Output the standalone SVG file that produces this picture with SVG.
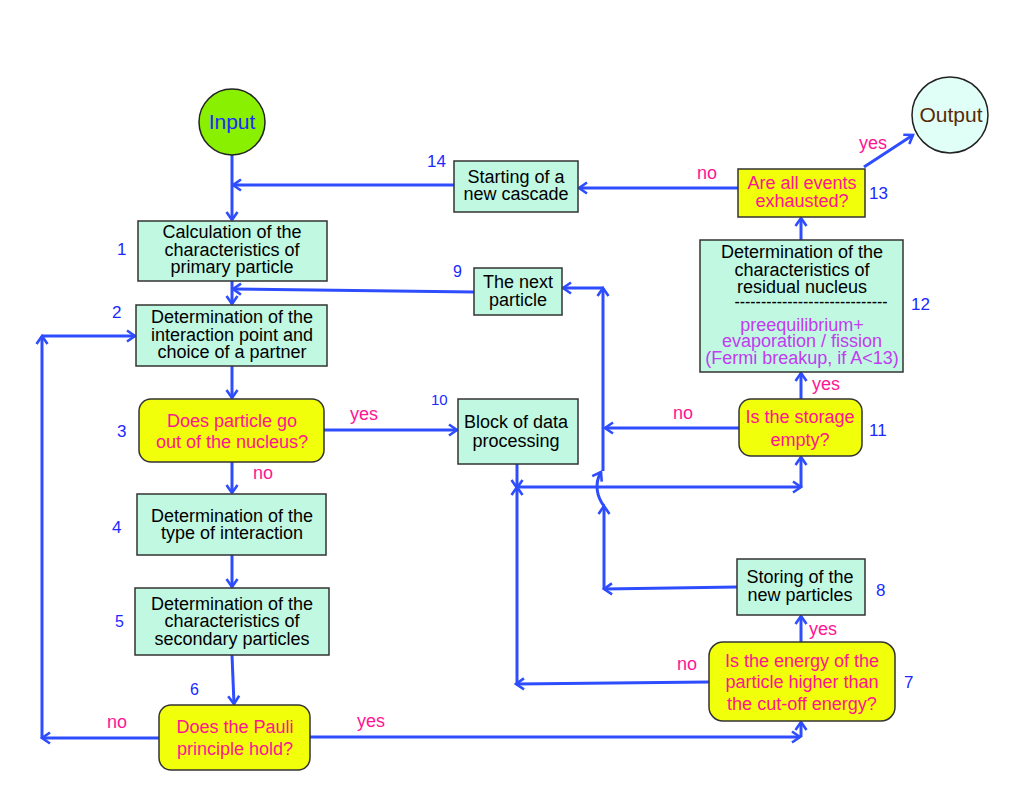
<svg xmlns="http://www.w3.org/2000/svg" width="1035" height="800" viewBox="0 0 1035 800">
<style>
  .box { fill: #c0f8e2; stroke: #333; stroke-width: 1.5; }
  .q { fill: #f2ff0a; stroke: #333; stroke-width: 1.5; }
  .t { font-family: "Liberation Sans", Arial, sans-serif; font-size: 18px; fill: #000; text-anchor: middle; }
  .qt { font-family: "Liberation Sans", Arial, sans-serif; font-size: 18px; fill: #ff1493; text-anchor: middle; }
  .pt { font-family: "Liberation Sans", Arial, sans-serif; font-size: 18px; fill: #c23cf0; text-anchor: middle; }
  .num { font-family: "Liberation Sans", Arial, sans-serif; font-size: 17px; fill: #1a2aff; }
  .lab { font-family: "Liberation Sans", Arial, sans-serif; font-size: 18px; fill: #ff1493; }
  .c { fill: none; stroke: #2e4dff; stroke-width: 3; marker-end: url(#arr); }
  .cn { fill: none; stroke: #2e4dff; stroke-width: 3; }
</style>
<defs>
  <marker id="arr" markerUnits="userSpaceOnUse" markerWidth="14" markerHeight="14" refX="11" refY="7" orient="auto">
    <path d="M3,1.5 L11,7 L3,12.5" fill="none" stroke="#2e4dff" stroke-width="2.6"/>
  </marker>
</defs>
<rect width="1035" height="800" fill="#fff"/>

<g id="connectors">
  <line class="c" x1="232" y1="155" x2="232" y2="220"/>
  <line class="c" x1="454" y1="185" x2="233" y2="185"/>
  <line class="c" x1="232" y1="281" x2="232" y2="304"/>
  <line class="c" x1="474" y1="292" x2="233" y2="289"/>
  <line class="c" x1="232" y1="366" x2="232" y2="398"/>
  <line class="c" x1="324" y1="430" x2="457" y2="430"/>
  <line class="c" x1="232" y1="462" x2="232" y2="493"/>
  <line class="c" x1="232" y1="555" x2="232" y2="587"/>
  <line class="c" x1="232" y1="655" x2="234" y2="704"/>
  <line class="c" x1="159" y1="738" x2="42" y2="738"/>
  <line class="c" x1="42" y1="738" x2="42" y2="336"/>
  <line class="c" x1="42" y1="336" x2="135" y2="336"/>
  <line class="c" x1="310" y1="737" x2="800" y2="737"/>
  <line class="c" x1="801" y1="737" x2="801" y2="722"/>
  <line class="c" x1="801" y1="642" x2="801" y2="616"/>
  <line class="c" x1="709" y1="682" x2="516" y2="684"/>
  <line class="c" x1="517" y1="684" x2="517" y2="487"/>
  <line class="c" x1="517" y1="464" x2="517" y2="488"/>
  <line class="c" x1="517" y1="487" x2="801" y2="487"/>
  <line class="c" x1="801" y1="487" x2="801" y2="457"/>
  <line class="c" x1="737" y1="587" x2="604" y2="589"/>
  <line class="c" x1="604" y1="589" x2="604" y2="506"/>
  <path class="c" d="M604,506 C597,497 594,484 601,472"/>
  <line class="cn" x1="603" y1="471" x2="603" y2="289"/>
  <line class="c" x1="603" y1="289" x2="603" y2="288"/>
  <line class="c" x1="603" y1="288" x2="563" y2="288"/>
  <line class="c" x1="739" y1="428" x2="605" y2="428"/>
  <line class="c" x1="801" y1="399" x2="801" y2="373"/>
  <line class="c" x1="801" y1="240" x2="801" y2="218"/>
  <line class="c" x1="864" y1="167" x2="913" y2="135"/>
  <line class="c" x1="738" y1="188" x2="579" y2="188"/>
</g>

<g id="input">
  <circle cx="232" cy="122" r="33" fill="#88f000" stroke="#222" stroke-width="1.5"/>
  <text x="232" y="129" class="t" style="font-size:21px;fill:#1a2aff">Input</text>
</g>
<g id="output">
  <circle cx="950" cy="115" r="38" fill="#e0fff6" stroke="#222" stroke-width="1.5"/>
  <text x="951" y="122" class="t" style="font-size:21px;fill:#5a2a08">Output</text>
</g>

<g id="n1">
  <rect class="box" x="138" y="221" width="189" height="60"/>
  <text class="t" x="232" y="238">Calculation of the</text>
  <text class="t" x="232" y="256">characteristics of</text>
  <text class="t" x="232" y="273">primary particle</text>
  <text class="num" x="117" y="255">1</text>
</g>
<g id="n2">
  <rect class="box" x="136" y="305" width="191" height="61"/>
  <text class="t" x="232" y="323">Determination of the</text>
  <text class="t" x="232" y="341">interaction point and</text>
  <text class="t" x="232" y="358">choice of a partner</text>
  <text class="num" x="112" y="318">2</text>
</g>
<g id="n3">
  <rect class="q" x="139" y="399" width="185" height="63" rx="12"/>
  <text class="qt" x="232" y="427">Does particle go</text>
  <text class="qt" x="232" y="448">out of the nucleus?</text>
  <text class="num" x="117" y="437">3</text>
</g>
<g id="n4">
  <rect class="box" x="137" y="494" width="189" height="61"/>
  <text class="t" x="232" y="522">Determination of the</text>
  <text class="t" x="232" y="539">type of interaction</text>
  <text class="num" x="112" y="533">4</text>
</g>
<g id="n5">
  <rect class="box" x="135" y="588" width="194" height="67"/>
  <text class="t" x="232" y="610">Determination of the</text>
  <text class="t" x="232" y="627">characteristics of</text>
  <text class="t" x="232" y="645">secondary particles</text>
  <text class="num" x="115" y="627" style="font-size:16px">5</text>
</g>
<g id="n6">
  <rect class="q" x="159" y="705" width="151" height="65" rx="12"/>
  <text class="qt" x="235" y="733">Does the Pauli</text>
  <text class="qt" x="235" y="755">principle hold?</text>
  <text class="num" x="190" y="695" style="font-size:16px">6</text>
</g>
<g id="n7">
  <rect class="q" x="709" y="642" width="186" height="79" rx="14"/>
  <text class="qt" x="802" y="667">Is the energy of the</text>
  <text class="qt" x="802" y="688">particle higher than</text>
  <text class="qt" x="802" y="710">the cut-off energy?</text>
  <text class="num" x="904" y="688">7</text>
</g>
<g id="n8">
  <rect class="box" x="737" y="559" width="128" height="56"/>
  <text class="t" x="800" y="583">Storing of the</text>
  <text class="t" x="800" y="601">new particles</text>
  <text class="num" x="876" y="596">8</text>
</g>
<g id="n9">
  <rect class="box" x="474" y="268" width="88" height="47"/>
  <text class="t" x="518" y="288">The next</text>
  <text class="t" x="518" y="306">particle</text>
  <text class="num" x="453" y="277" style="font-size:16px">9</text>
</g>
<g id="n10">
  <rect class="box" x="458" y="399" width="120" height="65"/>
  <text class="t" x="516" y="428">Block of data</text>
  <text class="t" x="516" y="447">processing</text>
  <text class="num" x="431" y="405" style="font-size:15px">10</text>
</g>
<g id="n11">
  <rect class="q" x="739" y="399" width="123" height="57" rx="12"/>
  <text class="qt" x="800" y="423">Is the storage</text>
  <text class="qt" x="800" y="446">empty?</text>
  <text class="num" x="869" y="436">11</text>
</g>
<g id="n12">
  <rect class="box" x="700" y="240" width="203" height="132"/>
  <text class="t" x="802" y="258">Determination of the</text>
  <text class="t" x="802" y="276">characteristics of</text>
  <text class="t" x="802" y="293">residual nucleus</text>
  <text class="t" x="811" y="308" textLength="153" lengthAdjust="spacingAndGlyphs">-----------------------------</text>
  <text class="pt" x="802" y="331">preequilibrium+</text>
  <text class="pt" x="802" y="347">evaporation / fission</text>
  <text class="pt" x="802" y="364">(Fermi breakup, if A&lt;13)</text>
  <text class="num" x="911" y="310">12</text>
</g>
<g id="n13">
  <rect class="q" x="738" y="169" width="127" height="48"/>
  <text class="qt" x="802" y="189">Are all events</text>
  <text class="qt" x="802" y="207">exhausted?</text>
  <text class="num" x="869" y="199">13</text>
</g>
<g id="n14">
  <rect class="box" x="454" y="161" width="124" height="51"/>
  <text class="t" x="516" y="183">Starting of a</text>
  <text class="t" x="516" y="200">new cascade</text>
  <text class="num" x="427" y="167">14</text>
</g>

<g id="labels">
  <text class="lab" x="350" y="420">yes</text>
  <text class="lab" x="253" y="479">no</text>
  <text class="lab" x="107" y="728">no</text>
  <text class="lab" x="357" y="727">yes</text>
  <text class="lab" x="697" y="179">no</text>
  <text class="lab" x="859" y="149">yes</text>
  <text class="lab" x="812" y="390">yes</text>
  <text class="lab" x="673" y="419">no</text>
  <text class="lab" x="809" y="635">yes</text>
  <text class="lab" x="677" y="670">no</text>
</g>
</svg>
